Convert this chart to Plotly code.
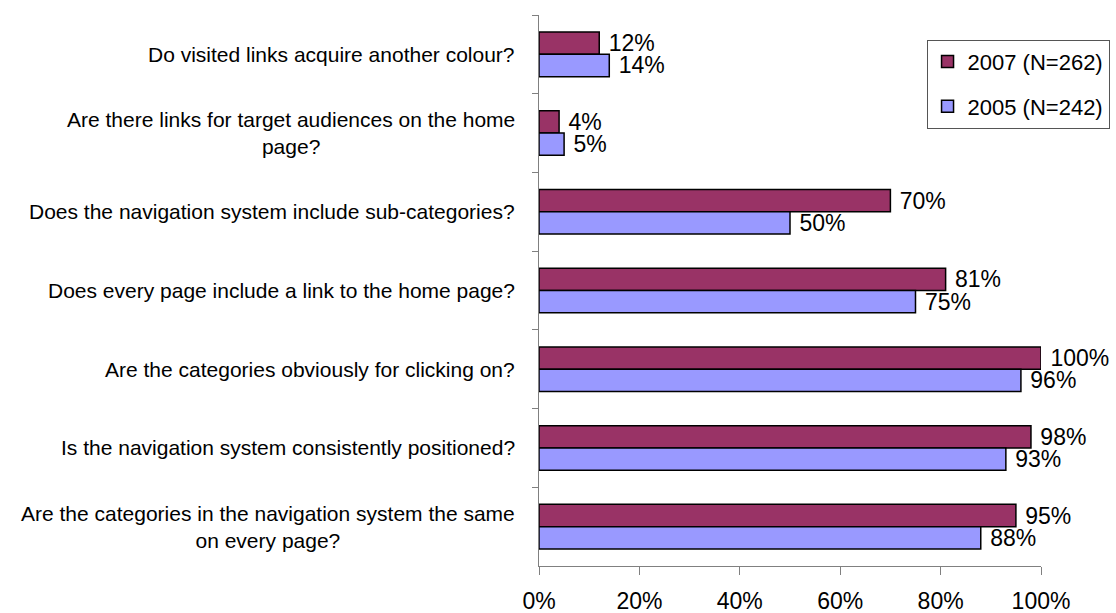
import plotly.graph_objects as go

# Survey questions (top to bottom) and share of sites answering "yes"
categories = [
    "Do visited links acquire another colour?",
    "Are there links for target audiences on the home<br>page?",
    "Does the navigation system include sub-categories?",
    "Does every page include a link to the home page?",
    "Are the categories obviously for clicking on?",
    "Is the navigation system consistently positioned?",
    "Are the categories in the navigation system the same<br>on every page?",
]
values_2007 = [12, 4, 70, 81, 100, 98, 95]
values_2005 = [14, 5, 50, 75, 96, 93, 88]
series_names = ["2007 (N=262)", "2005 (N=242)"]
x_ticks = [0, 20, 40, 60, 80, 100]
x_tick_labels = ["0%", "20%", "40%", "60%", "80%", "100%"]

FONT = "Liberation Sans, Arial, sans-serif"

fig = go.Figure()
for name, vals, color, grp in [
    (series_names[0], values_2007, "#993366", "a"),
    (series_names[1], values_2005, "#9999FF", "b"),
]:
    fig.add_trace(go.Bar(
        y=categories,
        x=vals,
        name=name,
        orientation="h",
        legendgroup=grp,
        marker=dict(color=color, line=dict(color="#000000", width=1.5)),
        text=vals,
        texttemplate=" %{text}%",
        textposition="outside",
        textfont=dict(family=FONT, size=23, color="#000000"),
        constraintext="none",
        cliponaxis=False,
    ))

# Category labels, centred line by line like the spreadsheet original
annotations = []
for c in categories:
    annotations.append(dict(
        xref="paper", yref="y", x=0, y=c,
        xanchor="right", yanchor="middle",
        xshift=-22, align="center", showarrow=False,
        text=c,
        font=dict(family=FONT, size=21, color="#000000"),
    ))

fig.update_layout(
    width=1116, height=613,
    margin=dict(l=539, r=75, t=15, b=47, autoexpand=False),
    paper_bgcolor="white", plot_bgcolor="white",
    barmode="group", bargap=0.434, bargroupgap=0,
    font=dict(family=FONT, size=21, color="#000000"),
    showlegend=True,
    legend=dict(
        x=0.772, y=0.955, xanchor="left", yanchor="top",
        bgcolor="white", bordercolor="#555555", borderwidth=1,
        font=dict(family=FONT, size=22, color="#000000"),
        traceorder="grouped", tracegroupgap=13,
    ),
    annotations=annotations,
)
fig.update_xaxes(
    range=[0, 100], tickvals=x_ticks, ticktext=x_tick_labels,
    showgrid=False, zeroline=False,
    showline=True, linecolor="#808080", linewidth=1,
    ticks="outside", ticklen=8, tickcolor="#808080",
    ticklabelstandoff=6,
    tickfont=dict(family=FONT, size=23, color="#000000"),
)
fig.update_yaxes(
    categoryorder="array", categoryarray=categories,
    autorange="reversed",
    showgrid=False, zeroline=False,
    showline=True, linecolor="#808080", linewidth=1,
    ticks="outside", ticklen=6, tickcolor="#808080",
    tickson="boundaries", showticklabels=False,
)

fig.write_html("out.html")
